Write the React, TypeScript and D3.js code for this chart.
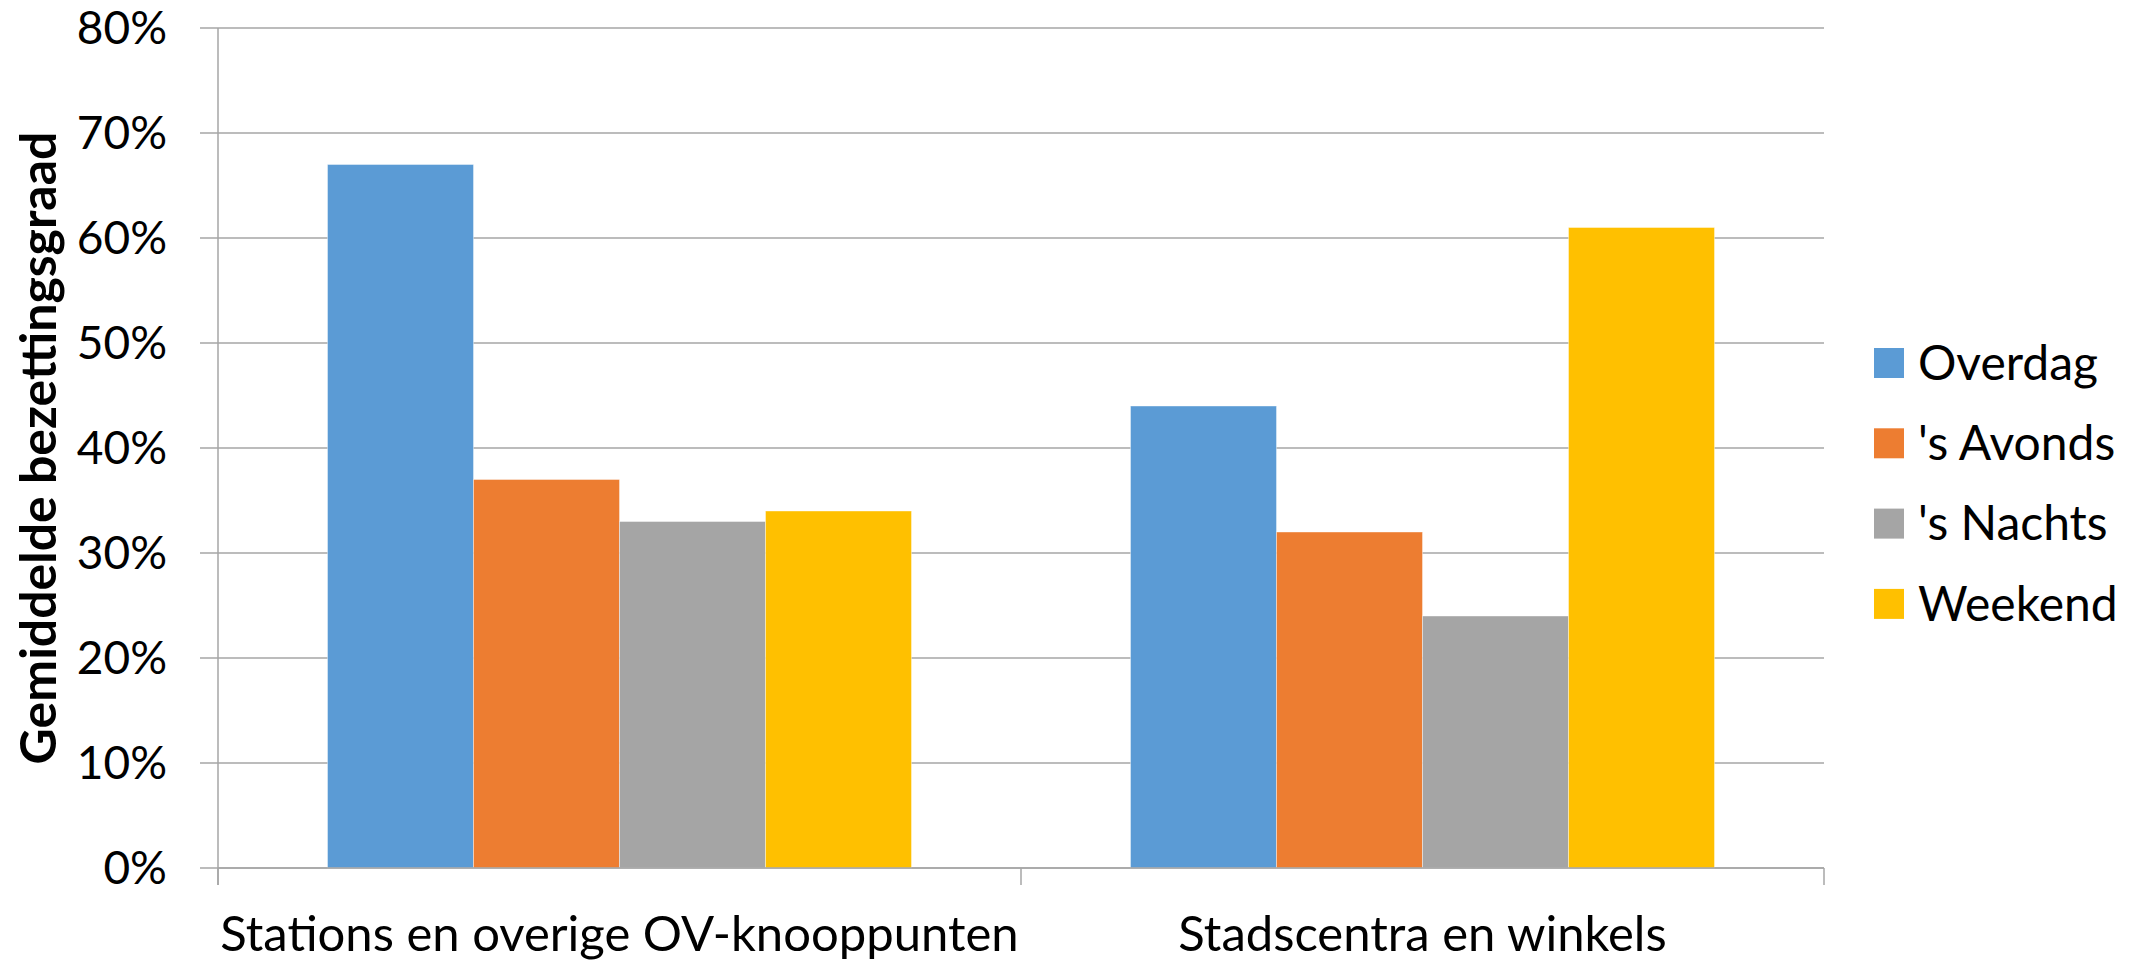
import React from "react";
import * as d3 from "d3";

const categories = ["Stations en overige OV-knooppunten", "Stadscentra en winkels"];
const seriesNames = ["Overdag", "'s Avonds", "'s Nachts", "Weekend"];
const seriesColors = ["#5B9BD5", "#ED7D31", "#A5A5A5", "#FFC000"];
const overdag = [0.67, 0.44];
const avonds = [0.37, 0.32];
const nachts = [0.33, 0.24];
const weekend = [0.34, 0.61];
const yTicks = [0, 0.1, 0.2, 0.3, 0.4, 0.5, 0.6, 0.7, 0.8];
const yTitle = "Gemiddelde bezettingsgraad";

const W = 2144;
const H = 964;
const FONT = "Lato, 'Open Sans', sans-serif";

export default function App() {
  const left = 218, right = 1824, top = 28, bottom = 868;
  const y = d3.scaleLinear().domain([0, 0.8]).range([bottom, top]);
  const x0 = d3.scaleBand().domain(categories).range([left, right]).paddingInner(0).paddingOuter(0);
  const bw = x0.bandwidth() / 5.5;
  const values = [overdag, avonds, nachts, weekend];
  const fmt = d3.format(".0%");
  const grid = "#A6A6A6";

  return (
    <svg width={W} height={H} style={{ position: "absolute", left: 0, top: 0 }} xmlns="http://www.w3.org/2000/svg">
      <rect width={W} height={H} fill="#fff" />
      {yTicks.map((t) => (
        <g key={t}>
          <line x1={200} x2={right} y1={y(t)} y2={y(t)} stroke={grid} strokeWidth={1.5} />
          <text x={167} y={y(t)} dy="0.35em" textAnchor="end" fontFamily={FONT} fontSize={46} fill="#000">
            {fmt(t)}
          </text>
        </g>
      ))}
      {categories.map((c, ci) =>
        values.map((vals, si) => {
          const bx = (x0(c) as number) + bw * 0.75 + si * bw;
          return (
            <rect key={c + si} x={bx} y={y(vals[ci])} width={bw} height={bottom - y(vals[ci])}
              fill={seriesColors[si]} stroke="#fff" strokeOpacity={0.4} strokeWidth={1} />
          );
        })
      )}
      <line x1={left} x2={left} y1={top} y2={885} stroke={grid} strokeWidth={1.5} />
      <line x1={left} x2={right} y1={bottom} y2={bottom} stroke={grid} strokeWidth={1.5} />
      {[left, (x0(categories[1]) as number), right].map((tx, i) => (
        <line key={i} x1={tx} x2={tx} y1={bottom} y2={885} stroke={grid} strokeWidth={1.5} />
      ))}
      {categories.map((c) => (
        <text key={c} x={(x0(c) as number) + x0.bandwidth() / 2} y={951} textAnchor="middle"
          fontFamily={FONT} fontSize={49} fill="#000">
          {c}
        </text>
      ))}
      <text transform={`translate(56, ${(top + bottom) / 2}) rotate(-90)`} textAnchor="middle"
        fontFamily={FONT} fontSize={50} fontWeight="bold" fill="#000">
        {yTitle}
      </text>
      {seriesNames.map((s, i) => (
        <g key={s} transform={`translate(1874, ${348 + i * 80.3})`}>
          <rect width={30} height={30} fill={seriesColors[i]} />
          <text x={44} y={15} dy="0.35em" fontFamily={FONT} fontSize={48} fill="#000">
            {s}
          </text>
        </g>
      ))}
    </svg>
  );
}
